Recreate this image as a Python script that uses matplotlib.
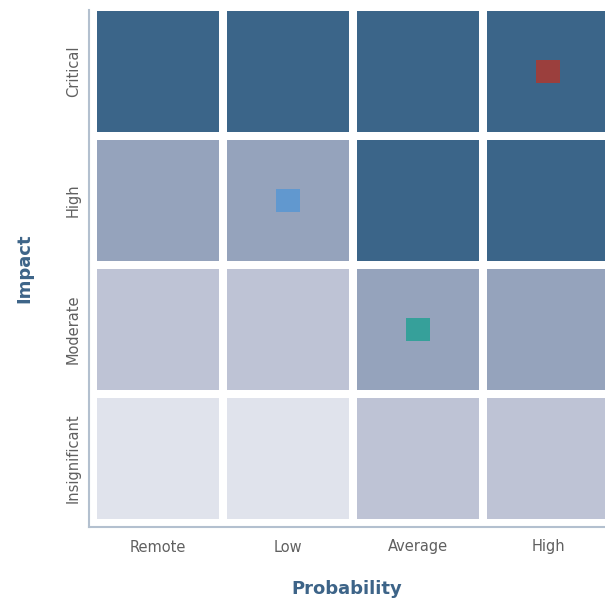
import numpy as np
import matplotlib.pyplot as plt

plt.switch_backend('Agg')

# data
probability = ['Remote', 'Low', 'Average', 'High']
impact = ['Insignificant', 'Moderate', 'High', 'Critical']
# risk level per cell, rows = impact (bottom to top), cols = probability
levels = np.array([
    [0, 0, 1, 1],
    [1, 1, 2, 2],
    [2, 2, 3, 3],
    [3, 3, 3, 3],
])
level_colors = ['#e0e3ec', '#bec3d5', '#95a3bc', '#3b6589']

# risks placed on the matrix: (probability index, impact index, colour)
risk_prob = [3, 1, 2]
risk_impact = [3, 2, 1]
risk_colors = ['#9b3f3d', '#6198cf', '#36a09a']

fig = plt.figure(figsize=(6.05, 6.01), dpi=100)
ax = fig.add_axes([89 / 605, 1 - 527 / 601, (605 - 89) / 605, (527 - 10) / 601])

cell = 0.94
for r in range(len(impact)):
    for c in range(len(probability)):
        ax.bar(c, cell, width=cell, bottom=r - cell / 2,
               color=level_colors[levels[r, c]], linewidth=0, zorder=1)

ax.scatter(risk_prob, risk_impact, marker='s', s=17 ** 2, c=risk_colors,
           linewidths=0, zorder=3)

ax.set_xlim(-0.531, 3.438)
ax.set_ylim(-0.531, 3.477)

ax.set_xticks(range(len(probability)))
ax.set_xticklabels(probability)
ax.set_yticks(range(len(impact)))
ax.set_yticklabels(impact, rotation=90, va='center')
ax.tick_params(length=0, labelsize=10.5, labelcolor='#606060')
ax.tick_params(axis='x', pad=9)
ax.tick_params(axis='y', pad=6)

for s in ['top', 'right']:
    ax.spines[s].set_visible(False)
for s in ['left', 'bottom']:
    ax.spines[s].set_color('#b3c0cf')
    ax.spines[s].set_linewidth(1.5)

ax.set_xlabel('Probability', fontsize=13, fontweight='bold', color='#3d6488', labelpad=18)
ax.set_ylabel('Impact', fontsize=13, fontweight='bold', color='#3d6488', labelpad=23)

fig.savefig('out.png', dpi=100)
